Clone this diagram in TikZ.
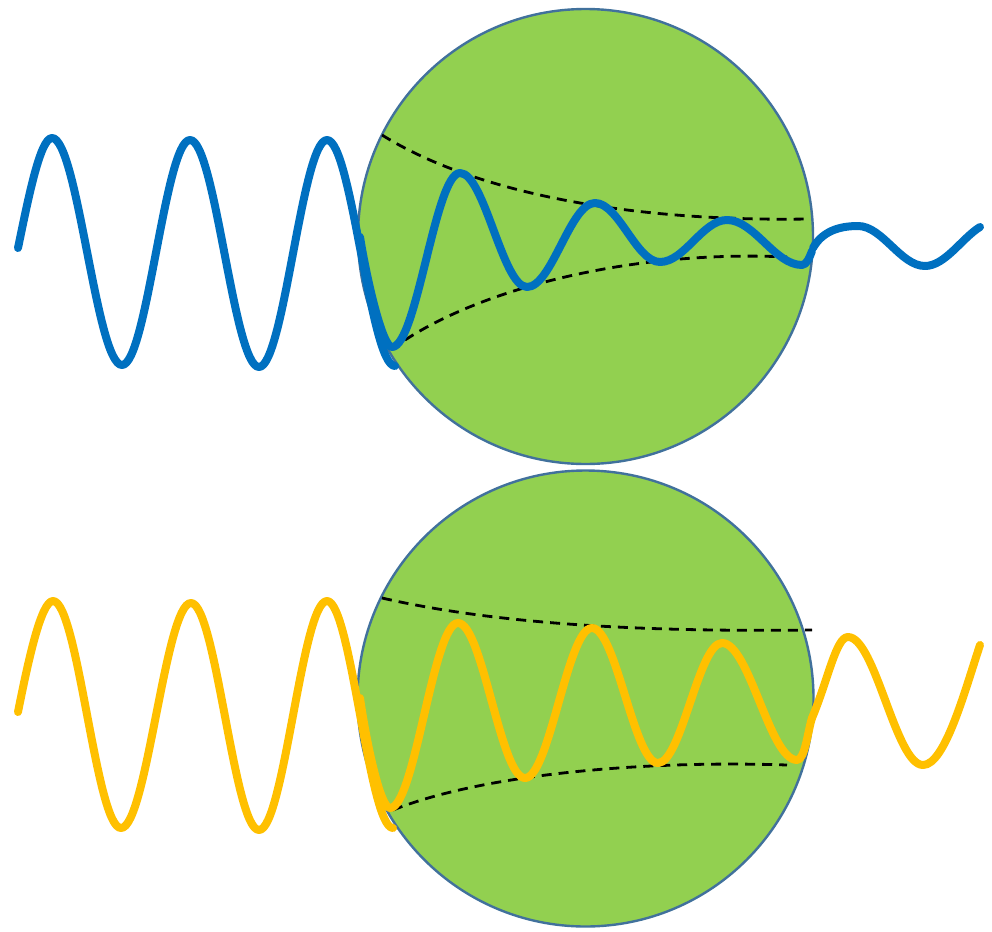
\documentclass[tikz,border=0pt]{standalone}
\usepackage{tikz}
\definecolor{ballgreen}{HTML}{92D050}
\definecolor{balledge}{HTML}{41719C}
\definecolor{waveblue}{HTML}{0070C0}
\definecolor{waveyellow}{HTML}{FFC000}
\tikzset{
  ball/.style={fill=ballgreen, draw=balledge, line width=2.4pt},
  envelope/.style={draw=black, line width=2.8pt, dash pattern=on 10pt off 7pt},
  bluewave/.style={draw=waveblue, line width=8pt, line cap=round, line join=round},
  yellowwave/.style={draw=waveyellow, line width=8pt, line cap=round, line join=round}
}
\begin{document}
\begin{tikzpicture}[x=1pt,y=-1pt]
\useasboundingbox (0,0) rectangle (992,931);
% balls
\path[ball] (585.5,236.5) circle (227.5);
\path[ball] (585.5,698.5) circle (228);
% envelopes (top)
\path[envelope] (382,135) .. controls (470,190) and (620,222) .. (808,219);
\path[envelope] (405,340) .. controls (490,285) and (640,250) .. (787,257);
% envelopes (bottom)
\path[envelope] (382,598) .. controls (500,625) and (650,632) .. (812,630);
\path[envelope] (393,810) .. controls (480,775) and (640,760) .. (787,765);
% blue wave, incoming
\path[bluewave] (18,248) .. controls (28,200) and (40,138) .. (52,138)
  .. controls (77.5,138) and (96.5,365) .. (122,365)
  .. controls (146.8,365) and (165.2,140) .. (190,140)
  .. controls (215.1,140) and (233.9,367) .. (259,367)
  .. controls (283.8,367) and (302.2,140) .. (327,140)
  .. controls (351.8,140) and (370.2,366) .. (395,366);
% blue wave, inside
\path[bluewave] (360,237) .. controls (366,275) and (382,347) .. (392,347)
  .. controls (416.8,347) and (435.2,173) .. (460,173)
  .. controls (484.4,173) and (502.6,287) .. (527,287)
  .. controls (551.8,287) and (570.2,203) .. (595,203)
  .. controls (618.7,203) and (636.3,262) .. (660,262)
  .. controls (684.4,262) and (702.6,220) .. (727,220)
  .. controls (754.3,220) and (774.7,265) .. (802,265)
  .. controls (807,265) and (810,256) .. (812,251);
% blue wave, outgoing
\path[bluewave] (813,248) .. controls (822,232) and (838,226) .. (858,226)
  .. controls (882.4,226) and (900.6,266) .. (925,266)
  .. controls (945,266) and (962,238) .. (980,227);
% yellow wave, incoming
\path[yellowwave] (18,712) .. controls (28,662) and (41,601) .. (53,601)
  .. controls (77.8,601) and (96.2,828) .. (121,828)
  .. controls (146.5,828) and (165.5,603) .. (191,603)
  .. controls (215.8,603) and (234.2,830) .. (259,830)
  .. controls (283.8,830) and (302.2,601) .. (327,601)
  .. controls (351,601) and (369,828) .. (393,828);
% yellow wave, inside
\path[yellowwave] (360,698) .. controls (366,740) and (380,808) .. (390,808)
  .. controls (414.8,808) and (433.2,623) .. (458,623)
  .. controls (482.4,623) and (500.6,778) .. (525,778)
  .. controls (549.4,778) and (567.6,628) .. (592,628)
  .. controls (616,628) and (634,763) .. (658,763)
  .. controls (681.3,763) and (698.7,643) .. (722,643)
  .. controls (749.3,643) and (769.7,760) .. (797,760)
  .. controls (805,760) and (808,730) .. (812,718);
% yellow wave, outgoing
\path[yellowwave] (812,718) .. controls (828,680) and (836,637) .. (848,637)
  .. controls (875.3,637) and (895.7,765) .. (923,765)
  .. controls (945,765) and (965,690) .. (980,645);
\end{tikzpicture}
\end{document}
